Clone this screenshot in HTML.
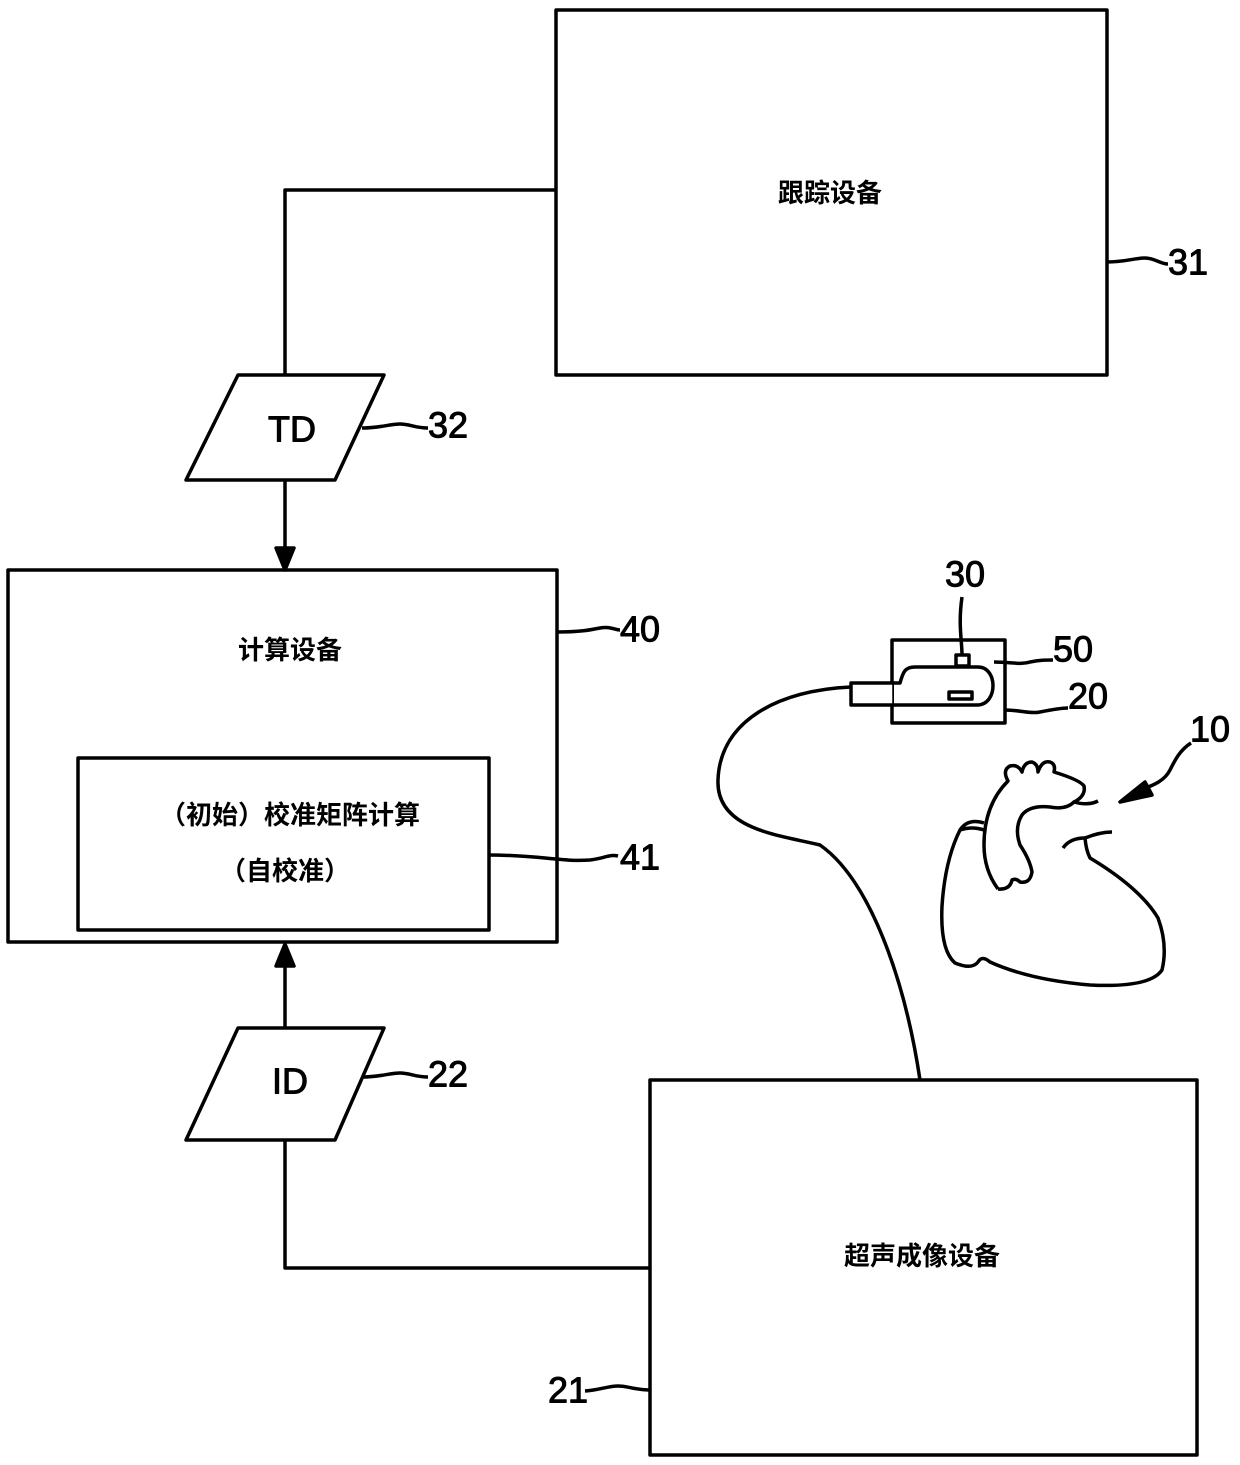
<!DOCTYPE html>
<html><head><meta charset="utf-8"><style>
html,body{margin:0;padding:0;background:#fff;}
svg{display:block}
.cn{font-family:"Liberation Sans","Noto Sans CJK SC",sans-serif;font-size:26px;font-weight:bold;text-anchor:middle;dominant-baseline:middle}
.n{font-family:"Liberation Sans",sans-serif;font-size:36px;dominant-baseline:middle;stroke:#000;stroke-width:1}
</style></head><body>
<svg width="1240" height="1465" viewBox="0 0 1240 1465" fill="none" stroke="#000" stroke-width="3.5" stroke-linejoin="round">
<rect x="556" y="10" width="551" height="365"/>
<text class="cn" x="830" y="195" fill="#000" stroke="none">跟踪设备</text>
<path d="M556,190 H285 V375"/>
<path d="M238,375 H384 L335,480 H186 Z"/>
<text class="n" x="268" y="432" fill="#000" font-size="32">TD</text>
<path d="M285,480 V552" />
<path d="M276,548 L285,570 L294,548 Z" fill="#000"/>
<rect x="8" y="570" width="549" height="372"/>
<text class="cn" x="290" y="652" fill="#000" stroke="none">计算设备</text>
<rect x="78" y="758" width="411" height="172"/>
<text class="cn" x="290" y="817" fill="#000" stroke="none">（初始）校准矩阵计算</text>
<text class="cn" x="285" y="873" fill="#000" stroke="none">（自校准）</text>
<path d="M489,855 C540,855 560,862 590,860 C605,858 610,854 618,856"/>
<text class="n" x="620" y="860" fill="#000">41</text>
<path d="M557,632 C580,632 590,630 600,628 C610,626 615,630 620,630"/>
<text class="n" x="620" y="632" fill="#000">40</text>
<path d="M285,1028 V962"/>
<path d="M276,966 L285,944 L294,966 Z" fill="#000"/>
<path d="M238,1028 H384 L335,1140 H186 Z"/>
<text class="n" x="272" y="1084" fill="#000" font-size="32">ID</text>
<path d="M285,1140 V1268 H650"/>
<rect x="650" y="1080" width="547" height="375"/>
<text class="cn" x="922" y="1258" fill="#000" stroke="none">超声成像设备</text>
<path d="M362,428 C380,428 390,424 400,424 C410,424 415,428 428,428"/>
<text class="n" x="428" y="428" fill="#000">32</text>
<path d="M362,1077 C380,1077 390,1073 400,1073 C410,1073 415,1077 428,1077"/>
<text class="n" x="428" y="1077" fill="#000">22</text>
<path d="M1107,262 C1125,262 1135,258 1145,258 C1155,258 1160,264 1168,264"/>
<text class="n" x="1168" y="265" fill="#000">31</text>
<path d="M650,1390 C635,1390 628,1386 618,1386 C608,1386 600,1390 585,1391"/>
<text class="n" x="548" y="1393" fill="#000">21</text>
<!-- probe -->
<rect x="892" y="640" width="113" height="83"/>
<rect x="851" y="683" width="43" height="22" fill="#fff"/>
<path d="M894,683 H900 C903,672 905,667 915,667 H978 C998,667 998,704 978,705 H894" fill="#fff"/>
<rect x="956" y="655" width="13" height="11"/>
<rect x="949" y="692" width="23" height="7"/>
<path d="M962,655 C962,640 958,625 962,597"/>
<text class="n" x="945" y="577" fill="#000">30</text>
<path d="M994,662 C1010,662 1020,665 1030,662 C1040,660 1045,660 1053,660"/>
<text class="n" x="1053" y="652" fill="#000">50</text>
<path d="M1005,710 C1020,710 1030,714 1040,712 C1050,710 1060,708 1068,708"/>
<text class="n" x="1068" y="699" fill="#000">20</text>
<!-- cable -->
<path d="M851,687 C780,690 720,720 718,780 C716,830 780,835 820,845 C870,880 905,980 920,1080"/>
<!-- heart: aorta -->
<path d="M998,889 Q984,870 984,845 Q984,805 1008,781 Q1002,770 1010,766 Q1018,764 1022,772 Q1024,762 1032,762 Q1038,764 1038,772 Q1042,760 1050,762 Q1056,764 1054,772 Q1080,780 1084,786 Q1086,796 1074,802 Q1088,806 1098,801"/>
<path d="M1074,802 Q1066,810 1050,807 Q1030,805 1022,815 Q1014,828 1020,845 Q1030,860 1032,872 Q1030,884 1020,882 Q1016,878 1012,880 Q1010,890 998,889"/>
<!-- heart outer -->
<path d="M984,823 Q968,818 960,830 Q945,860 942,906 Q940,950 955,963 Q972,970 978,962 Q982,955 990,962 Q1030,980 1090,985 Q1150,988 1162,970 Q1168,945 1158,918 Q1140,888 1090,858 Q1086,850 1085,838 Q1100,832 1112,832"/>
<path d="M1085,838 Q1070,838 1063,848"/>
<path d="M960,830 Q972,826 984,830"/>
<path d="M1191,743 C1180,750 1175,760 1170,770 C1165,780 1155,785 1140,790"/>
<path d="M1145,782 L1120,802 L1152,795 Z" fill="#000"/>
<text class="n" x="1190" y="732" fill="#000">10</text>
</svg>
</body></html>
